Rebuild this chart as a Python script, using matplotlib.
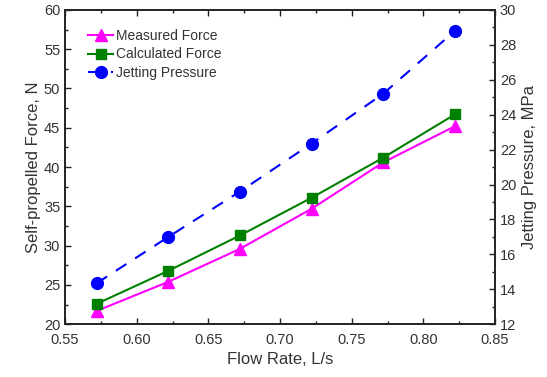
import matplotlib
matplotlib.use("Agg")
import matplotlib.pyplot as plt
from matplotlib.ticker import MultipleLocator

plt.rcParams['font.family'] = ['Liberation Sans', 'DejaVu Sans']

flow_rate = [0.572, 0.622, 0.672, 0.722, 0.772, 0.822]
measured_force = [21.7, 25.4, 29.6, 34.7, 40.6, 45.2]
calculated_force = [22.6, 26.8, 31.3, 36.1, 41.2, 46.7]
jetting_pressure = [14.35, 17.0, 19.6, 22.35, 25.2, 28.8]

txt = '#333333'
fig = plt.figure(figsize=(5.47, 3.77), dpi=100)
ax = fig.add_axes([0.119, 0.1398, 0.786, 0.834])
ax2 = ax.twinx()

l1, = ax.plot(flow_rate, measured_force, '-', color='#FF00FF', marker='^', markersize=9,
              lw=1.5, label='Measured Force')
l2, = ax.plot(flow_rate, calculated_force, '-', color='#008000', marker='s', markersize=7.5,
              lw=1.5, label='Calculated Force')
l3, = ax2.plot(flow_rate, jetting_pressure, color='#0000FF', marker='o', markersize=8.5,
               lw=1.5, dashes=(6, 5), label='Jetting Pressure')

ax.set_xlim(0.55, 0.85)
ax.set_ylim(20, 60)
ax2.set_ylim(12, 30)
ax.xaxis.set_major_locator(MultipleLocator(0.05))
ax.xaxis.set_minor_locator(MultipleLocator(0.025))
ax.yaxis.set_major_locator(MultipleLocator(5))
ax.yaxis.set_minor_locator(MultipleLocator(2.5))
ax2.yaxis.set_major_locator(MultipleLocator(2))
ax2.yaxis.set_minor_locator(MultipleLocator(1))
ax.xaxis.set_major_formatter(matplotlib.ticker.FormatStrFormatter('%.2f'))

ax.tick_params(axis='x', which='both', direction='in', top=True, labelsize=10.5, colors=txt, pad=6)
ax.tick_params(axis='y', which='both', direction='in', right=False, labelsize=10.5, colors=txt)
ax2.tick_params(axis='y', which='both', direction='in', labelsize=10.5, colors=txt)
for a in (ax, ax2):
    a.tick_params(which='major', length=4, width=1, color='#222222')
    a.tick_params(which='minor', length=2.5, width=1, color='#222222')
    for s in a.spines.values():
        s.set_linewidth(1.2)
        s.set_color('#222222')

ax.set_xlabel('Flow Rate, L/s', fontsize=12, color=txt, labelpad=4)
ax.set_ylabel('Self-propelled Force, N', fontsize=12, color=txt, labelpad=2)
ax2.set_ylabel('Jetting Pressure, MPa', fontsize=12, color=txt, labelpad=4)

leg = ax.legend(handles=[l1, l2, l3], loc='upper left', bbox_to_anchor=(0.025, 0.978),
                frameon=False, fontsize=10, handlelength=1.8, handletextpad=0.2,
                labelspacing=0.3, labelcolor=txt)

fig.savefig('out.png', dpi=100)
